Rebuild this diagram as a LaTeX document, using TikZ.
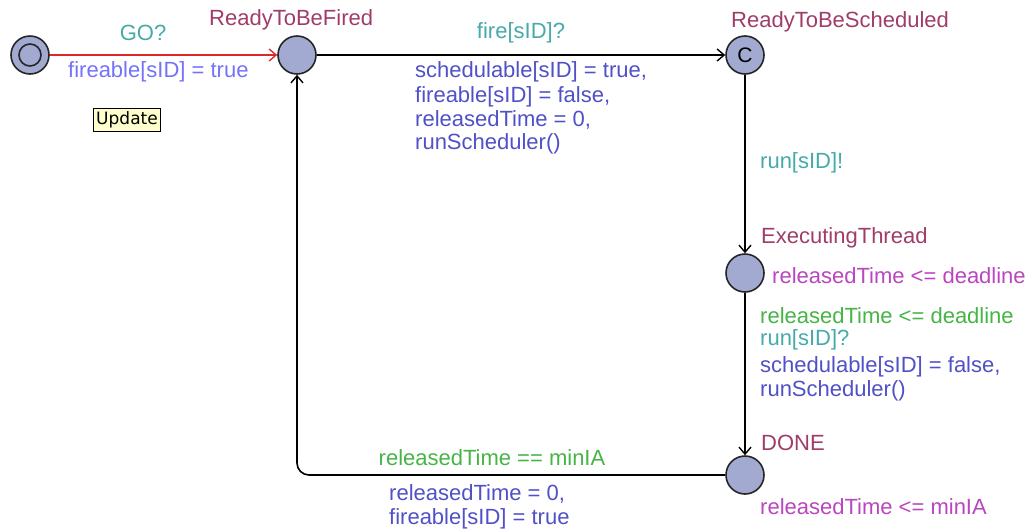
\documentclass[tikz,border=0pt]{standalone}
\usepackage{fontspec}
\setmainfont{Liberation Sans}
\newfontfamily\notefont{DejaVu Sans}
\usetikzlibrary{arrows.meta}
\definecolor{locfill}{RGB}{162,170,210}
\definecolor{locname}{RGB}{160,60,105}
\definecolor{synccol}{RGB}{70,170,170}
\definecolor{updcol}{RGB}{80,80,200}
\definecolor{updlight}{RGB}{115,115,250}
\definecolor{guardcol}{RGB}{70,180,70}
\definecolor{invcol}{RGB}{185,70,190}
\definecolor{edgered}{RGB}{220,40,40}
\definecolor{notefill}{RGB}{255,255,205}
\tikzset{
  loc/.style={circle, draw=black!85, line width=1.6pt, fill=locfill, minimum size=38pt, inner sep=0pt},
  txt/.style={font=\fontsize{22}{26}\selectfont, inner sep=0pt, anchor=west},
  lname/.style={txt, text=locname},
  sync/.style={txt, text=synccol},
  upd/.style={txt, text=updcol},
  guard/.style={txt, text=guardcol},
  inv/.style={txt, text=invcol},
  edge/.style={line width=1.6pt, -{Straight Barb[length=7pt, width=12pt, line width=1.4pt]}},
}
\begin{document}
\begin{tikzpicture}[x=1pt, y=-1pt]
\useasboundingbox (0,0) rectangle (1034,531);
% locations
\node[loc] (init) at (30,55) {};
\draw[black!85, line width=1.6pt] (init.center) circle (11);
\node[loc] (rtbf) at (297,55) {};
\node[loc, font=\fontsize{21}{26}\selectfont] (rtbs) at (745,55) {C};
\node[loc] (exec) at (745,273) {};
\node[loc] (done) at (745,475) {};
% location names
\node[lname] (n1) at (209,20) {ReadyToBeFired};
\node[lname] (n2) at (731,22) {ReadyToBeScheduled};
\node[lname] (n3) at (761,238) {ExecutingThread};
\node[lname] (n4) at (761,443) {DONE};
% invariants
\node[inv] (i1) at (772,276) {releasedTime <= deadline};
\node[inv] (i2) at (760,507) {releasedTime <= minIA};
% edges
\draw[edge, draw=edgered] (init) -- (rtbf);
\draw[edge] (rtbf) -- (rtbs);
\draw[edge] (rtbs) -- (exec);
\draw[edge] (exec) -- (done);
\draw[edge, rounded corners=12] (done.west) -| (rtbf.south);
% edge labels
\node[sync, anchor=center] (s1) at (143,33) {GO?};
\node[txt, text=updlight] (u1) at (68,72) {fireable[sID] = true};
\node[draw=black, fill=notefill, line width=1.2pt, inner xsep=3pt, inner ysep=3pt, font=\notefont\fontsize{17}{20}\selectfont] (note) at (127,120) {Update};
\node[sync, anchor=center] (s2) at (521,33) {fire[sID]?};
\node[upd] (u2a) at (415,72) {schedulable[sID] = true,};
\node[upd] (u2b) at (415,97) {fireable[sID] = false,};
\node[upd] (u2c) at (415,120) {releasedTime = 0,};
\node[upd] (u2d) at (415,144) {runScheduler()};
\node[sync] (s3) at (760,163) {run[sID]!};
\node[guard] (g4) at (760,316) {releasedTime <= deadline};
\node[sync] (s4) at (760,340) {run[sID]?};
\node[upd] (u4a) at (760,367) {schedulable[sID] = false,};
\node[upd] (u4b) at (760,391) {runScheduler()};
\node[guard, anchor=center] (g5) at (492,458) {releasedTime == minIA};
\node[upd] (u5a) at (389,494) {releasedTime = 0,};
\node[upd] (u5b) at (389,519) {fireable[sID] = true};
\end{tikzpicture}
\end{document}
